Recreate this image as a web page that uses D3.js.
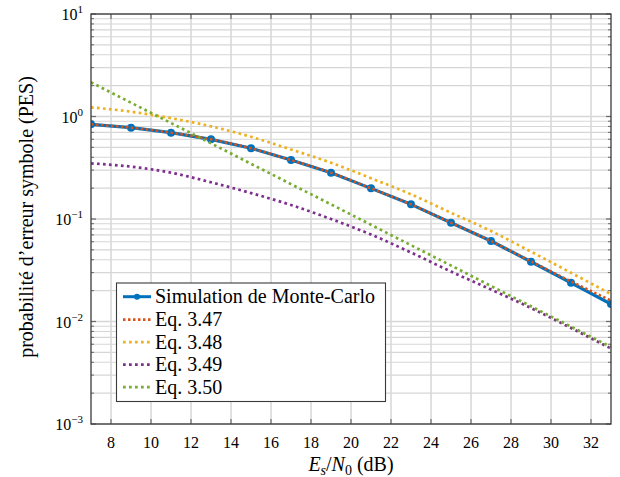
<!DOCTYPE html>
<html>
<head>
<meta charset="utf-8">
<script src="https://cdn.jsdelivr.net/npm/d3@7"></script>
<style>
  html, body { margin: 0; padding: 0; background: #ffffff; }
  svg { display: block; }
</style>
</head>
<body>
<svg id="chart" width="620" height="477" font-family="'Liberation Serif', 'DejaVu Serif', serif"></svg>
<script>
// ---------------- data ----------------
const snrMC = [7, 9, 11, 13, 15, 17, 19, 21, 23, 25, 27, 29, 31, 33];
const pesMC = [0.839, 0.778, 0.695, 0.599, 0.490, 0.376, 0.283, 0.199, 0.139, 0.092, 0.061, 0.0383, 0.0239, 0.01482];

const snrEq = [7, 9, 11, 13, 15, 17, 19, 21, 23, 25, 27, 29, 31, 33];
const eq347 = [0.839, 0.778, 0.695, 0.599, 0.490, 0.376, 0.283, 0.199, 0.139, 0.092, 0.061, 0.0386, 0.0246, 0.0160];
const eq348 = [1.229, 1.114, 0.963, 0.802, 0.634, 0.477, 0.354, 0.250, 0.174, 0.115, 0.0764, 0.0480, 0.0299, 0.0185];
const eq349 = [0.349, 0.324, 0.283, 0.228, 0.179, 0.137, 0.100, 0.0706, 0.0471, 0.0307, 0.0205, 0.01354, 0.00864, 0.00545];
const eq350 = [2.157, 1.363, 0.864, 0.547, 0.346, 0.219, 0.139, 0.0878, 0.0555, 0.0352, 0.0222, 0.01407, 0.00891, 0.00564];

const xTickValues = [8, 10, 12, 14, 16, 18, 20, 22, 24, 26, 28, 30, 32];
const yTickExponents = [-3, -2, -1, 0, 1];

const seriesNames = ["Simulation de Monte-Carlo", "Eq. 3.47", "Eq. 3.48", "Eq. 3.49", "Eq. 3.50"];
const seriesColors = ["#0072BD", "#D95319", "#EDB120", "#7E2F8E", "#77AC30"];

// ---------------- layout ----------------
const FONT = "'Liberation Serif', 'DejaVu Serif', serif";
const svg = d3.select("#chart");
const L = 91, R = 611, T = 14, B = 424;

const x = d3.scaleLinear().domain([7, 33]).range([L, R]);
const y = d3.scaleLog().domain([1e-3, 1e1]).range([B, T]);

const minorVals = [];
yTickExponents.slice(0, -1).forEach(e => {
  for (let k = 2; k <= 9; k++) minorVals.push(k * Math.pow(10, e));
});
const majorVals = yTickExponents.map(e => Math.pow(10, e));

// ---------------- grid ----------------
const grid = svg.append("g");
grid.selectAll("line.ymin").data(minorVals).join("line")
  .attr("x1", L).attr("x2", R)
  .attr("y1", d => y(d)).attr("y2", d => y(d))
  .attr("stroke", "#d6d6d6").attr("stroke-width", 1.1);
grid.selectAll("line.ymaj").data(majorVals).join("line")
  .attr("x1", L).attr("x2", R)
  .attr("y1", d => y(d)).attr("y2", d => y(d))
  .attr("stroke", "#d6d6d6").attr("stroke-width", 1.4);
grid.selectAll("line.xmaj").data(xTickValues).join("line")
  .attr("x1", d => x(d)).attr("x2", d => x(d))
  .attr("y1", T).attr("y2", B)
  .attr("stroke", "#d9d9d9").attr("stroke-width", 1.6);

// ---------------- tick marks (inside) ----------------
const ticks = svg.append("g").attr("stroke", "#6a6a6a");
xTickValues.forEach(v => {
  ticks.append("line").attr("x1", x(v)).attr("x2", x(v)).attr("y1", B).attr("y2", B - 5).attr("stroke-width", 1.2);
  ticks.append("line").attr("x1", x(v)).attr("x2", x(v)).attr("y1", T).attr("y2", T + 5).attr("stroke-width", 1.2);
});
majorVals.forEach(v => {
  ticks.append("line").attr("x1", L).attr("x2", L + 5).attr("y1", y(v)).attr("y2", y(v)).attr("stroke-width", 1.2);
  ticks.append("line").attr("x1", R).attr("x2", R - 5).attr("y1", y(v)).attr("y2", y(v)).attr("stroke-width", 1.2);
});
minorVals.forEach(v => {
  ticks.append("line").attr("x1", L).attr("x2", L + 3).attr("y1", y(v)).attr("y2", y(v)).attr("stroke-width", 1);
  ticks.append("line").attr("x1", R).attr("x2", R - 3).attr("y1", y(v)).attr("y2", y(v)).attr("stroke-width", 1);
});

// ---------------- series ----------------
const clip = svg.append("clipPath").attr("id", "plotclip");
clip.append("rect").attr("x", L).attr("y", T).attr("width", R - L).attr("height", B - T);
const plot = svg.append("g").attr("clip-path", "url(#plotclip)");

const lineLin = d3.line().x(d => x(d[0])).y(d => y(d[1]));
const lineSmooth = d3.line().x(d => x(d[0])).y(d => y(d[1])).curve(d3.curveMonotoneX);

const mcData = d3.zip(snrMC, pesMC);
plot.append("path").datum(mcData).attr("d", lineLin)
  .attr("fill", "none").attr("stroke", seriesColors[0]).attr("stroke-width", 3.2).attr("stroke-linejoin", "round");
plot.selectAll("circle.mc").data(mcData).join("circle")
  .attr("cx", d => x(d[0])).attr("cy", d => y(d[1])).attr("r", 4)
  .attr("fill", seriesColors[0]);

const eqSeries = [eq347, eq348, eq349, eq350];
eqSeries.forEach((vals, i) => {
  const data = d3.zip(snrEq, vals);
  const red = i === 0;
  plot.append("path").datum(data).attr("d", lineSmooth)
    .attr("fill", "none").attr("stroke", seriesColors[i + 1])
    .attr("stroke-width", red ? 2.6 : 2.7)
    .attr("stroke-dasharray", red ? "2.5,2.5" : "2.7,3.3");
});

// ---------------- axis frame ----------------
svg.append("rect").attr("x", L).attr("y", T).attr("width", R - L).attr("height", B - T)
  .attr("fill", "none").attr("stroke", "#3a3a3a").attr("stroke-width", 1.3);

// ---------------- tick labels ----------------
svg.append("g").selectAll("text").data(xTickValues).join("text")
  .attr("x", d => x(d)).attr("y", 448)
  .attr("text-anchor", "middle").attr("font-size", 16).attr("font-family", FONT)
  .text(d => d);

const yl = svg.append("g");
yTickExponents.forEach(e => {
  const t = yl.append("text").attr("x", 83).attr("y", y(Math.pow(10, e)) + 6)
    .attr("text-anchor", "end").attr("font-size", 16).attr("font-family", FONT);
  t.append("tspan").text("10");
  t.append("tspan").attr("font-size", 11).attr("dy", -7).text(e < 0 ? "\u2212" + Math.abs(e) : String(e));
});

// ---------------- axis labels ----------------
const xl = svg.append("text").attr("x", (L + R) / 2).attr("y", 471)
  .attr("text-anchor", "middle").attr("font-size", 20).attr("font-family", FONT);
xl.append("tspan").attr("font-style", "italic").text("E");
xl.append("tspan").attr("font-style", "italic").attr("font-size", 14).attr("dy", 4).text("s");
xl.append("tspan").attr("dy", -4).text("/");
xl.append("tspan").attr("font-style", "italic").text("N");
xl.append("tspan").attr("font-size", 14).attr("dy", 4).text("0");
xl.append("tspan").attr("dy", -4).text("\u00a0(dB)");

svg.append("text")
  .attr("transform", `translate(33,${(T + B) / 2 - 2}) rotate(-90)`)
  .attr("text-anchor", "middle").attr("font-size", 20).attr("font-family", FONT)
  .text("probabilité d\u2019erreur symbole (PES)");

// ---------------- legend ----------------
const lg = svg.append("g");
lg.append("rect").attr("x", 116.5).attr("y", 283).attr("width", 269).attr("height", 118.5)
  .attr("fill", "#fff").attr("stroke", "#3a3a3a").attr("stroke-width", 1.1);
const rowY = [296.7, 319.6, 342.2, 364.6, 387.2];
seriesNames.forEach((name, i) => {
  const yy = rowY[i];
  if (i === 0) {
    lg.append("line").attr("x1", 123).attr("x2", 151).attr("y1", yy).attr("y2", yy)
      .attr("stroke", seriesColors[0]).attr("stroke-width", 3);
    lg.append("circle").attr("cx", 137).attr("cy", yy).attr("r", 3).attr("fill", seriesColors[0]);
  } else {
    lg.append("line").attr("x1", 123).attr("x2", 151).attr("y1", yy).attr("y2", yy)
      .attr("stroke", seriesColors[i]).attr("stroke-width", i === 1 ? 2.6 : 2.7)
      .attr("stroke-dasharray", i === 1 ? "2.5,2.5" : "2.7,3.3");
  }
  lg.append("text").attr("x", 155).attr("y", yy + 6.5).attr("font-size", 20)
    .attr("font-family", FONT).text(name);
});
</script>
</body>
</html>
